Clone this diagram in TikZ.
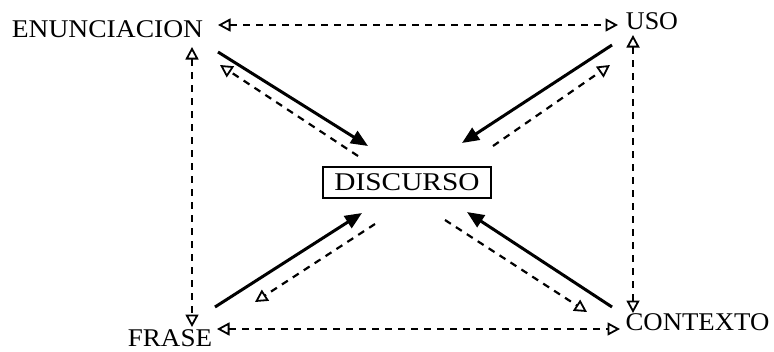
\documentclass[tikz,border=0pt]{standalone}
\usepackage{fontspec}
\setmainfont{Liberation Serif}
\usetikzlibrary{arrows.meta}
\newcommand\wtxt[2]{\scalebox{#1}[1]{#2}}
\begin{document}
\begin{tikzpicture}[x=1pt,y=-1pt,
  lbl/.style={inner sep=0pt, font=\fontsize{25.5}{26}\selectfont},
  opentip/.tip={Triangle[open,length=12.5pt,width=13pt,line width=1.8pt]},
  dsh/.style={line width=2.2pt, dash pattern=on 7pt off 6pt, -opentip},
  dshb/.style={line width=2.2pt, dash pattern=on 7pt off 6pt, opentip-opentip},
  sol/.style={line width=3pt, -{Triangle[length=17pt,width=14pt]}},
  box/.style={lbl, draw, line width=1.6pt, minimum width=168pt, minimum height=31pt}]
\useasboundingbox (0,0) rectangle (774,351);
% nodes
\node[lbl] (enun) at (107.5,29.5) {\wtxt{1.08}{ENUNCIACION}};
\node[lbl] (uso) at (652,21.5) {\wtxt{1.02}{USO}};
\node[lbl] (frase) at (170,338) {\wtxt{1.06}{FRASE}};
\node[lbl] (ctx) at (697.5,322.5) {\wtxt{1.05}{CONTEXTO}};
\node[box] (disc) at (407,182.5) {\wtxt{1.15}{DISCURSO}};
% end points
\coordinate (tl) at (218,25);   \coordinate (tr) at (618,25);
\coordinate (lt) at (192,47);   \coordinate (lb) at (192,327);
\coordinate (rt) at (633,35);   \coordinate (rb) at (633,313);
\coordinate (bl) at (217,329);  \coordinate (br) at (620,329);
\coordinate (s1a) at (218,52);  \coordinate (s1b) at (368,146);
\coordinate (d1a) at (358,156); \coordinate (d1b) at (220,65);
\coordinate (s2a) at (612,45);  \coordinate (s2b) at (462,143);
\coordinate (d2a) at (493,146); \coordinate (d2b) at (610,65);
\coordinate (s3a) at (215,307); \coordinate (s3b) at (362,213);
\coordinate (d3a) at (375,224); \coordinate (d3b) at (255,302);
\coordinate (s4a) at (612,307); \coordinate (s4b) at (467,212);
\coordinate (d4a) at (445,220); \coordinate (d4b) at (587,312);
% frame of dashed double arrows
\draw[dshb] (tl) -- (tr);
\draw[dshb] (lt) -- (lb);
\draw[dshb] (rt) -- (rb);
\draw[dshb] (bl) -- (br);
% diagonals
\draw[sol] (s1a) -- (s1b);
\draw[dsh] (d1a) -- (d1b);
\draw[sol] (s2a) -- (s2b);
\draw[dsh] (d2a) -- (d2b);
\draw[sol] (s3a) -- (s3b);
\draw[dsh] (d3a) -- (d3b);
\draw[sol] (s4a) -- (s4b);
\draw[dsh] (d4a) -- (d4b);
\end{tikzpicture}
\end{document}
